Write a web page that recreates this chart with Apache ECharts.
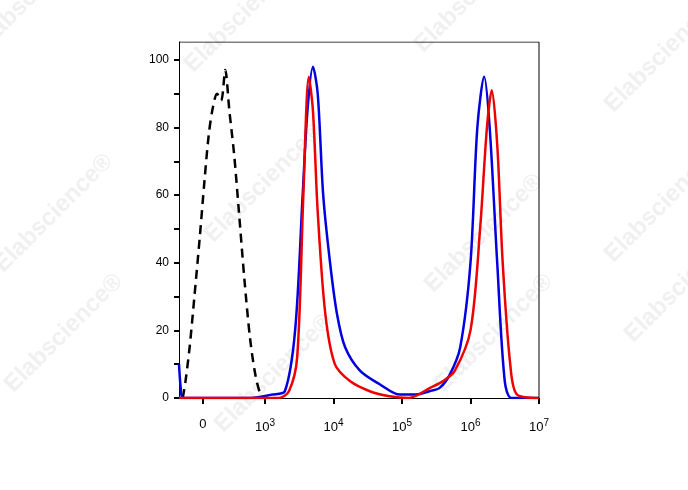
<!DOCTYPE html>
<html>
<head>
<meta charset="utf-8">
<script src="https://cdn.jsdelivr.net/npm/echarts@6/dist/echarts.min.js"></script>
<style>html,body{margin:0;background:#fff}#chart{width:688px;height:490px}</style>
</head>
<body>
<div id="chart"></div>
<script>
// x in display units: 2.095 = 0, 3 = 10^3 ... 7 = 10^7 (biexponential axis)
const xTicks = [2.095, 3, 4, 5, 6, 7];
const xTickLabels = ['0', '10{s|3}', '10{s|4}', '10{s|5}', '10{s|6}', '10{s|7}'];
const yTicks = [0, 20, 40, 60, 80, 100];

const control = [[1.80,0],[1.84,5],[1.90,15],[1.97,30],[2.05,48],[2.12,65],[2.18,78],[2.24,86],[2.30,90],[2.36,88],[2.42,97],
  [2.48,85],[2.55,72],[2.62,55],[2.70,35],[2.78,18],[2.85,8],[2.92,2],[3.0,0]];
const blue = [[1.745,10],[1.77,3],[1.80,0],[2.8,0],[3.1,1],[3.29,2],[3.44,20],[3.55,60],[3.62,85],[3.70,98],[3.77,90],
  [3.85,60],[3.95,40],[4.05,25],[4.17,15],[4.39,8],[4.68,4],[4.97,1],[5.2,1],[5.4,2],[5.55,3],[5.7,7],[5.85,15],
  [6.0,40],[6.1,80],[6.2,95],[6.28,80],[6.39,40],[6.5,5],[6.6,0],[7,0]];
const red = [[1.745,0],[3.2,0],[3.35,2],[3.47,12],[3.56,60],[3.64,95],[3.70,85],[3.77,55],[3.88,25],[4.02,10],
  [4.24,5],[4.53,2],[4.82,0.5],[5.1,0],[5.41,3],[5.6,5],[5.77,8],[6.0,20],[6.14,50],[6.24,80],[6.31,91],
  [6.39,75],[6.47,40],[6.58,10],[6.68,1],[7,0]];

const chart = echarts.init(document.getElementById('chart'));

const spots = [[-30,40],[180,60],[410,40],[600,100],[-10,260],[200,230],[420,280],[600,250],[0,380],[210,420],[430,380],[620,330]];
const marks = spots.map(p => ({
  type: 'text', x: p[0], y: p[1], rotation: Math.PI / 4, silent: true,
  style: { text: 'Elabscience®', fill: 'rgba(205,205,205,0.3)', font: 'bold 24px Arial' }
}));

chart.setOption({
  animation: false,
  grid: { left: 179, right: 149, top: 42, bottom: 92 },
  graphic: marks,
  xAxis: {
    type: 'value', min: 1.745, max: 7,
    axisLine: { lineStyle: { color: '#000', width: 1 } },
    axisTick: { customValues: xTicks, length: 6, lineStyle: { color: '#000', width: 2 } },
    axisLabel: {
      customValues: xTicks, margin: 20, color: '#000', fontFamily: 'Arial', fontSize: 13,
      formatter: v => xTickLabels[xTicks.indexOf(v)] || '',
      rich: { s: { fontSize: 10, verticalAlign: 'top', padding: [0, 0, 9, 0] } }
    },
    splitLine: { show: false }
  },
  yAxis: {
    type: 'value', min: 0, max: 105.3,
    axisLine: { show: true, lineStyle: { color: '#000', width: 1 } },
    axisTick: { customValues: [0,10,20,30,40,50,60,70,80,90,100], length: 5, lineStyle: { color: '#000', width: 2 } },
    axisLabel: { customValues: yTicks, color: '#000', fontFamily: 'Arial', fontSize: 12, margin: 10 },
    splitLine: { show: false }
  },
  series: [
    { type: 'line', data: [[1.745,105.3],[7,105.3]], symbol: 'none', lineStyle: { color: '#000', width: 1 }, silent: true },
    { type: 'line', data: control, symbol: 'none', smooth: 0.3, lineStyle: { color: '#000', width: 2.5, type: [9, 6] } },
    { type: 'line', data: blue, symbol: 'none', smooth: 0.3, lineStyle: { color: '#0000e0', width: 2.5 } },
    { type: 'line', data: red, symbol: 'none', smooth: 0.3, lineStyle: { color: '#ee0000', width: 2.5 } },
    { type: 'line', data: [[7,0],[7,105.3]], symbol: 'none', lineStyle: { color: '#000', width: 1 }, silent: true }
  ]
});
</script>
</body>
</html>
